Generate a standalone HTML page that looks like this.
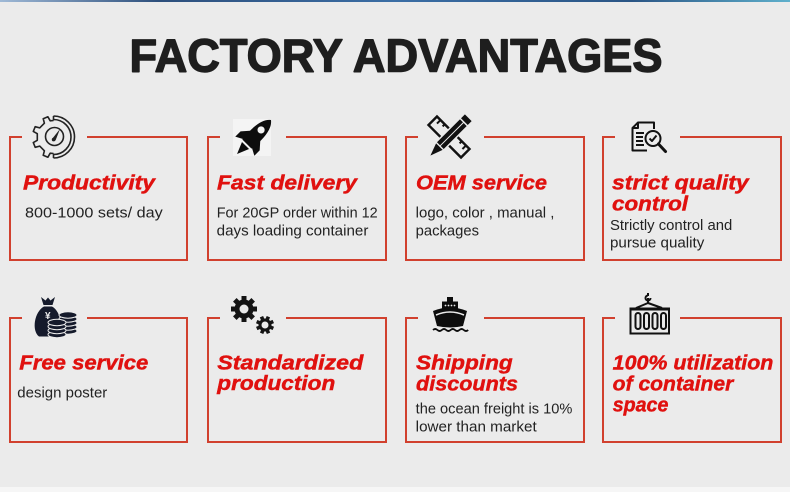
<!DOCTYPE html>
<html>
<head>
<meta charset="utf-8">
<style>
  html,body{margin:0;padding:0;background:#ebebeb;}
  body{width:790px;height:492px;overflow:hidden;}
  svg{display:block;}
  .h{font-family:"Liberation Sans",sans-serif;font-weight:bold;font-style:italic;font-size:20.5px;fill:#e0110f;stroke:#e0110f;stroke-width:0.45;}
  .b{font-family:"Liberation Sans",sans-serif;font-size:14.5px;fill:#222;}
</style>
</head>
<body>
<svg width="790" height="492" viewBox="0 0 790 492" xmlns="http://www.w3.org/2000/svg">
  <defs>
    <linearGradient id="top" x1="0" x2="1" y1="0" y2="0">
      <stop offset="0" stop-color="#9fb9d6"/>
      <stop offset="0.2" stop-color="#2d4f7c"/>
      <stop offset="0.5" stop-color="#3b6ea5"/>
      <stop offset="0.8" stop-color="#2a5585"/>
      <stop offset="1" stop-color="#5fb0cc"/>
    </linearGradient>
  </defs>
  <rect x="0" y="0" width="790" height="492" fill="#ebebeb"/>
  <rect x="0" y="0" width="790" height="2" fill="url(#top)"/>
  <rect x="0" y="487" width="790" height="5" fill="#f6f6f6"/>

  <!-- Title -->
  <text x="129.5" y="71.5" font-family="Liberation Sans, sans-serif" font-weight="bold" font-size="46.5" fill="#1e1e1e" stroke="#1e1e1e" stroke-width="1.4" stroke-linejoin="round" textLength="533" lengthAdjust="spacingAndGlyphs">FACTORY ADVANTAGES</text>

  <!-- Boxes -->
  <g fill="none" stroke="#d1402e" stroke-width="2">
    <path d="M22,137 H10 V260 H187 V137 H87"/>
    <path d="M220,137 H208 V260 H386 V137 H286"/>
    <path d="M418,137 H406 V260 H584 V137 H484"/>
    <path d="M615,137 H603 V260 H781 V137 H680"/>
    <path d="M22,318 H10 V442 H187 V318 H87"/>
    <path d="M220,318 H208 V442 H386 V318 H286"/>
    <path d="M418,318 H406 V442 H584 V318 H484"/>
    <path d="M615,318 H603 V442 H781 V318 H680"/>
  </g>

  <!-- Icon 1: gear gauge -->
  <g fill="none" stroke="#222" stroke-width="1.6" stroke-linejoin="round">
    <path d="M53.5,153.5 L50.2,153.2 L47.9,157.2 L43.2,155.3 L44.4,150.8 L39.7,146.1 L35.2,147.3 L33.3,142.6 L37.3,140.3 L37.3,133.7 L33.3,131.4 L35.2,126.7 L39.7,127.9 L44.4,123.2 L43.2,118.7 L47.9,116.8 L50.2,120.8 L53.5,120.5"/>
    <path d="M53.5,116 A21,21 0 0,1 53.5,158"/>
    <path d="M53.5,119.5 A17.5,17.5 0 0,1 53.5,154.5"/>
    <line x1="53.5" y1="116" x2="53.5" y2="120.5"/>
    <line x1="53.5" y1="153.5" x2="53.5" y2="158"/>
    <circle cx="54.5" cy="136.5" r="9"/>
  </g>
  <path d="M52,139 L60,129 L55.5,140.5 Z" fill="#222"/>
  <circle cx="53.6" cy="139.6" r="1.8" fill="#222"/>

  <!-- Icon 2: rocket -->
  <rect x="233" y="119" width="38" height="37" fill="#f4f4f4"/>
  <g transform="rotate(45 254 137)" fill="#0d0d0d">
    <path d="M254,113 C262,119 262,134 260.5,147 L247.5,147 C246,134 246,119 254,113 Z"/>
    <path d="M248,134 L240.5,142.5 L240.5,150 L248,146 Z"/>
    <path d="M260,134 L267.5,142.5 L267.5,150 L260,146 Z"/>
    <path d="M249,149 L254,161 L259,149 Z"/>
    <circle cx="254" cy="127" r="3.6" fill="#f4f4f4"/>
  </g>

  <!-- Icon 3: pencil & ruler -->
  <g transform="rotate(45 449 137)">
    <rect x="426" y="131" width="46" height="12" fill="#ebebeb" stroke="#111" stroke-width="2.4"/>
    <g stroke="#111" stroke-width="2">
      <line x1="431" y1="131" x2="431" y2="136"/>
      <line x1="437" y1="131" x2="437" y2="134"/>
      <line x1="461" y1="131" x2="461" y2="134"/>
      <line x1="467" y1="131" x2="467" y2="136"/>
    </g>
  </g>
  <g transform="rotate(-45 449 137)">
    <rect x="436" y="131.5" width="41" height="11" fill="#111" stroke="#ebebeb" stroke-width="1.5"/>
    <path d="M436,131.5 L436,142.5 L421,137 Z" fill="#111" stroke="#ebebeb" stroke-width="1.2"/>
    <line x1="470" y1="131.5" x2="470" y2="142.5" stroke="#ebebeb" stroke-width="1.5"/>
    <line x1="436" y1="137" x2="470" y2="137" stroke="#ebebeb" stroke-width="1"/>
  </g>

  <!-- Icon 4: document + magnifier -->
  <g fill="none" stroke="#111" stroke-width="2" stroke-linejoin="round">
    <path d="M638,122.5 L654,122.5 L654,129 M647,150.5 L632.5,150.5 L632.5,128 L638,122.5 L638,128 L632.5,128"/>
    <line x1="636" y1="133" x2="644" y2="133"/>
    <line x1="636" y1="137" x2="643" y2="137"/>
    <line x1="636" y1="141" x2="643" y2="141"/>
    <line x1="636" y1="145" x2="644" y2="145"/>
    <circle cx="653" cy="138.5" r="7.5" fill="#ebebeb"/>
    <path d="M649.5,138.5 L652,141 L656.5,135.5"/>
  </g>
  <line x1="658.5" y1="144" x2="665.5" y2="151.5" stroke="#111" stroke-width="3" stroke-linecap="round"/>

  <!-- Icon 5: money bag + coins -->
  <g fill="#151a2b">
    <path d="M41,297 L45.5,300.5 L48,297.5 L50.5,300.5 L55,297 L52.5,305 L43.5,305 Z"/>
    <path d="M44,306.5 C34,312 31.5,331 39,336.5 L57,336.5 C63,331 62,312 52,306.5 Z"/>
  </g>
  <text x="45" y="319" font-family="Liberation Sans, sans-serif" font-weight="bold" font-size="10" fill="#ebebeb">¥</text>
  <g fill="#151a2b" stroke="#ebebeb" stroke-width="1">
    <ellipse cx="68" cy="331" rx="9" ry="3.2"/>
    <ellipse cx="68" cy="327" rx="9" ry="3.2"/>
    <ellipse cx="68" cy="323" rx="9" ry="3.2"/>
    <ellipse cx="68" cy="319" rx="9" ry="3.2"/>
    <ellipse cx="68" cy="315" rx="9" ry="3.2"/>
    <ellipse cx="57" cy="334.5" rx="9" ry="3.2"/>
    <ellipse cx="57" cy="330.5" rx="9" ry="3.2"/>
    <ellipse cx="57" cy="326.5" rx="9" ry="3.2"/>
    <ellipse cx="57" cy="322.5" rx="9" ry="3.2"/>
  </g>

  <!-- Icon 6: gears -->
  <g fill="#141414">
    <circle cx="244" cy="309" r="9.5"/>
    <rect x="241.5" y="296" width="5" height="5" transform="rotate(0 244 309)"/>
    <rect x="241.5" y="296" width="5" height="5" transform="rotate(45 244 309)"/>
    <rect x="241.5" y="296" width="5" height="5" transform="rotate(90 244 309)"/>
    <rect x="241.5" y="296" width="5" height="5" transform="rotate(135 244 309)"/>
    <rect x="241.5" y="296" width="5" height="5" transform="rotate(180 244 309)"/>
    <rect x="241.5" y="296" width="5" height="5" transform="rotate(225 244 309)"/>
    <rect x="241.5" y="296" width="5" height="5" transform="rotate(270 244 309)"/>
    <rect x="241.5" y="296" width="5" height="5" transform="rotate(315 244 309)"/>
    <circle cx="265" cy="325" r="6.5"/>
    <rect x="263.2" y="316" width="3.6" height="3.6" transform="rotate(22 265 325)"/>
    <rect x="263.2" y="316" width="3.6" height="3.6" transform="rotate(67 265 325)"/>
    <rect x="263.2" y="316" width="3.6" height="3.6" transform="rotate(112 265 325)"/>
    <rect x="263.2" y="316" width="3.6" height="3.6" transform="rotate(157 265 325)"/>
    <rect x="263.2" y="316" width="3.6" height="3.6" transform="rotate(202 265 325)"/>
    <rect x="263.2" y="316" width="3.6" height="3.6" transform="rotate(247 265 325)"/>
    <rect x="263.2" y="316" width="3.6" height="3.6" transform="rotate(292 265 325)"/>
    <rect x="263.2" y="316" width="3.6" height="3.6" transform="rotate(337 265 325)"/>
  </g>
  <circle cx="244" cy="309" r="4.5" fill="#ebebeb"/>
  <circle cx="265" cy="325" r="3.5" fill="#ebebeb"/>

  <!-- Icon 7: ship -->
  <g fill="#0d0d0d">
    <rect x="447" y="297" width="6" height="5"/>
    <rect x="442" y="301.5" width="16" height="8"/>
    <path d="M433,311 Q450,304 467,311 L463,326 Q450,329 437,326 Z"/>
  </g>
  <g fill="#ebebeb">
    <circle cx="445.5" cy="305.5" r="0.9"/><circle cx="448.5" cy="305.5" r="0.9"/><circle cx="451.5" cy="305.5" r="0.9"/><circle cx="454.5" cy="305.5" r="0.9"/>
  </g>
  <path d="M436,315 Q450,309 464,315" fill="none" stroke="#ebebeb" stroke-width="1.5"/>
  <path d="M433,330 q2.2,-2 4.4,0 t4.4,0 t4.4,0 t4.4,0 t4.4,0 t4.4,0 t4.4,0 t4.4,0" fill="none" stroke="#0d0d0d" stroke-width="1.8"/>

  <!-- Icon 8: container -->
  <g fill="none" stroke="#111" stroke-width="2">
    <path d="M648,293 L648,296 M650.5,298 a2.5,2.5 0 1,1 -2.5,-2.5 M648,298 L648,303"/>
    <line x1="648" y1="303" x2="636" y2="308"/>
    <line x1="648" y1="303" x2="662" y2="308"/>
    <rect x="630.5" y="308.5" width="38.5" height="25"/>
    <rect x="635.5" y="313" width="5" height="16" rx="2.5"/>
    <rect x="644" y="313" width="5" height="16" rx="2.5"/>
    <rect x="652.5" y="313" width="5" height="16" rx="2.5"/>
    <rect x="661" y="313" width="5" height="16" rx="2.5"/>
  </g>
  <rect x="629.5" y="307.5" width="40.5" height="3" fill="#111"/>

  <!-- Texts row 1 -->
  <text class="h" x="23" y="189.5" textLength="132" lengthAdjust="spacingAndGlyphs">Productivity</text>
  <text class="b" x="25" y="217.3" textLength="137.7" lengthAdjust="spacingAndGlyphs">800-1000 sets/ day</text>

  <text class="h" x="217" y="189.5" textLength="140" lengthAdjust="spacingAndGlyphs">Fast delivery</text>
  <text class="b" x="216.7" y="217.3" textLength="161" lengthAdjust="spacingAndGlyphs">For 20GP order within 12</text>
  <text class="b" x="216.7" y="235.3" textLength="151.7" lengthAdjust="spacingAndGlyphs">days loading container</text>

  <text class="h" x="416" y="189.5" textLength="131" lengthAdjust="spacingAndGlyphs">OEM service</text>
  <text class="b" x="415.7" y="217.3" textLength="138.7" lengthAdjust="spacingAndGlyphs">logo, color , manual ,</text>
  <text class="b" x="415.7" y="235.3" textLength="63.3" lengthAdjust="spacingAndGlyphs">packages</text>

  <text class="h" x="612" y="189.5" textLength="136.7" lengthAdjust="spacingAndGlyphs">strict quality</text>
  <text class="h" x="612" y="210.3" textLength="76" lengthAdjust="spacingAndGlyphs">control</text>
  <text class="b" x="610" y="229.8" textLength="122.3" lengthAdjust="spacingAndGlyphs">Strictly control and</text>
  <text class="b" x="610" y="247.5" textLength="94.3" lengthAdjust="spacingAndGlyphs">pursue quality</text>

  <!-- Texts row 2 -->
  <text class="h" x="19.3" y="369.3" textLength="129" lengthAdjust="spacingAndGlyphs">Free service</text>
  <text class="b" x="17.3" y="397.5" textLength="90" lengthAdjust="spacingAndGlyphs">design poster</text>

  <text class="h" x="217.3" y="369.3" textLength="146" lengthAdjust="spacingAndGlyphs">Standardized</text>
  <text class="h" x="217.3" y="390" textLength="118" lengthAdjust="spacingAndGlyphs">production</text>

  <text class="h" x="416" y="369.3" textLength="96.7" lengthAdjust="spacingAndGlyphs">Shipping</text>
  <text class="h" x="416" y="390.3" textLength="102" lengthAdjust="spacingAndGlyphs">discounts</text>
  <text class="b" x="415.7" y="413.3" textLength="156.7" lengthAdjust="spacingAndGlyphs">the ocean freight is 10%</text>
  <text class="b" x="415.7" y="431.3" textLength="121" lengthAdjust="spacingAndGlyphs">lower than market</text>

  <text class="h" x="612.7" y="369.3" textLength="160.7" lengthAdjust="spacingAndGlyphs">100% utilization</text>
  <text class="h" x="612.7" y="390.5" textLength="120.7" lengthAdjust="spacingAndGlyphs">of container</text>
  <text class="h" x="612.7" y="411.7" textLength="55.7" lengthAdjust="spacingAndGlyphs">space</text>
</svg>
</body>
</html>
